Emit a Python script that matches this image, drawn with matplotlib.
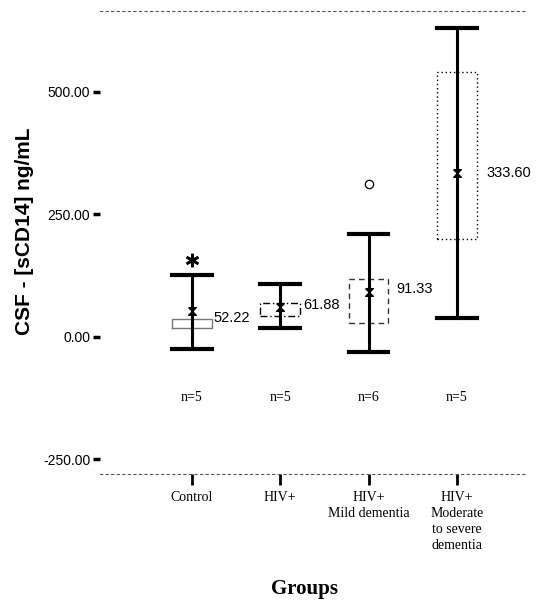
import numpy as np
import matplotlib
matplotlib.use("Agg")
import matplotlib.pyplot as plt

# values (ng/mL)
groups = ["Control", "HIV+", "HIV+\nMild dementia", "HIV+\nModerate\nto severe\ndementia"]
n_labels = ["n=5", "n=5", "n=6", "n=5"]
whisker_low = [-24, 18, -32, 39]
whisker_high = [127, 108, 210, 631]
box_low = [18, 43, 29, 200]
box_high = [37, 69, 118, 541]
means = [52.22, 61.88, 91.33, 333.60]
mean_text = ["52.22", "61.88", "91.33", "333.60"]
outlier_x = [1, 3]
outlier_y = [157, 312]
yticks = [-250, 0, 250, 500]

pos = np.arange(1, len(groups) + 1)
box_styles = [("-", "#777777"), ((0, (5, 2, 1, 2)), "black"),
              ((0, (4, 3)), "#333333"), ((0, (1, 2)), "black")]
label_dx = [0.24, 0.26, 0.32, 0.33]
label_dy = [-13, 3, 7, 0]

fig = plt.figure(figsize=(5.43, 6.01), dpi=100)
ax = fig.add_axes([0.184, 0.2113, 0.786, 0.7704])

half = 0.225
for i, p in enumerate(pos):
    ls, col = box_styles[i]
    ax.plot([p - half, p + half, p + half, p - half, p - half],
            [box_low[i], box_low[i], box_high[i], box_high[i], box_low[i]],
            ls=ls, color=col, lw=1.0, zorder=2)
    ax.plot([p, p], [whisker_low[i], whisker_high[i]], color="black", lw=2.2, zorder=3)
    ax.plot([p - half, p + half], [whisker_low[i]] * 2, color="black", lw=3, zorder=3)
    ax.plot([p - half, p + half], [whisker_high[i]] * 2, color="black", lw=3, zorder=3)
    ax.text(p + label_dx[i], means[i] + label_dy[i], mean_text[i], fontsize=10.5,
            family="Liberation Sans", ha="left", va="center")
    ax.text(p, -124, n_labels[i], fontsize=10, family="Liberation Serif",
            ha="center", va="center")

hourglass = [(-1, 1), (1, 1), (-1, -1), (1, -1), (-1, 1)]
ax.plot(pos, means, ls="none", marker=hourglass, ms=5.5, color="black", zorder=4)

ax.plot(outlier_x[0], outlier_y[0], ls="none", marker="$\\ast$", ms=9, color="black")
ax.plot(outlier_x[1], outlier_y[1], ls="none", marker="o", ms=6, mfc="white",
        mec="black", mew=0.9)

ax.set_xlim(-0.04, 4.79)
ax.set_ylim(-280, 665)
ax.set_yticks(yticks)
ax.set_yticklabels([f"{v:.2f}" for v in yticks], family="Liberation Sans", fontsize=10)
ax.set_xticks(pos)
ax.set_xticklabels(groups, family="Liberation Serif", fontsize=10, linespacing=1.3)
ax.tick_params(axis="y", length=5, width=2.5, pad=2)
ax.tick_params(axis="x", length=8, width=2, pad=4)

for side in ["left", "right"]:
    ax.spines[side].set_visible(False)
for side in ["top", "bottom"]:
    ax.spines[side].set_linestyle((0, (2, 3)))
    ax.spines[side].set_color("#555555")
    ax.spines[side].set_linewidth(0.8)

fig.text(25 / 543, 1 - 231 / 601, "CSF - [sCD14] ng/mL", rotation=90, fontsize=15,
         fontweight="bold", family="Liberation Sans", ha="center", va="center")
fig.text(304 / 543, 1 - 589 / 601, "Groups", fontsize=15, fontweight="bold",
         family="Liberation Serif", ha="center", va="center")

fig.savefig("out.png", dpi=100)
